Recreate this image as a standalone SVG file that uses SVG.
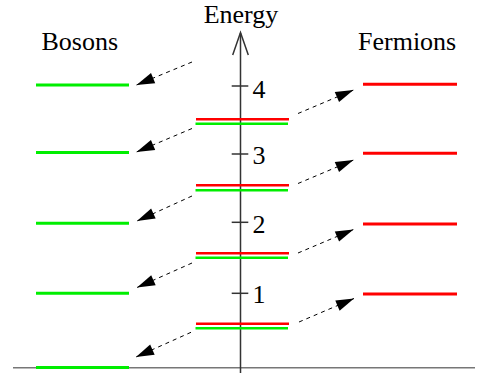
<svg xmlns="http://www.w3.org/2000/svg" width="482" height="373" viewBox="0 0 482 373">
<style>
text{font-family:'Liberation Serif','Times New Roman',serif;font-size:26px;fill:#000}
.b{stroke:#00ee00;stroke-width:3;fill:none}
.f{stroke:#ff0000;stroke-width:3;fill:none}
.pr{stroke:#ff0000;stroke-width:2.5;fill:none}
.pg{stroke:#00ee00;stroke-width:2.5;fill:none}
.ax{stroke:#333;stroke-width:1.5;fill:none}
.arr{stroke:#000;stroke-width:1;stroke-dasharray:4,4;fill:none;marker-end:url(#ah)}
</style>
<defs>
<marker id="ah" markerUnits="userSpaceOnUse" markerWidth="22" markerHeight="14" viewBox="0 0 22 14" refX="19" refY="7" orient="auto">
<path d="M1,1.5 L19,7 L1,12.5 Z" fill="#000"/>
</marker>
</defs>
<g id="axis">
<line class="ax" x1="13" y1="367.7" x2="475" y2="367.7" style="stroke:#777"/>
<line class="ax" x1="240.5" y1="33" x2="240.5" y2="373"/>
<polyline class="ax" points="232.7,55 240.5,32.5 248.3,55"/>
<text x="241" y="22.7" text-anchor="middle">Energy</text>
</g>
<g id="ticks">
<line class="ax" x1="231.7" y1="86" x2="248.3" y2="86"/>
<line class="ax" x1="231.7" y1="154" x2="248.3" y2="154"/>
<line class="ax" x1="231.7" y1="222.3" x2="248.3" y2="222.3"/>
<line class="ax" x1="231.7" y1="293.3" x2="248.3" y2="293.3"/>
<text x="252.5" y="97.7">4</text>
<text x="252.5" y="164">3</text>
<text x="252.5" y="232.7">2</text>
<text x="252.5" y="303.3">1</text>
</g>
<g id="bosons">
<text x="41.5" y="50">Bosons</text>
<line class="b" x1="36" y1="85" x2="129" y2="85"/>
<line class="b" x1="36" y1="152.5" x2="129" y2="152.5"/>
<line class="b" x1="36" y1="223.3" x2="129" y2="223.3"/>
<line class="b" x1="36" y1="293.3" x2="129" y2="293.3"/>
<line class="b" x1="36" y1="367.5" x2="129" y2="367.5"/>
</g>
<g id="fermions">
<text x="358" y="50">Fermions</text>
<line class="f" x1="363" y1="84.3" x2="457" y2="84.3"/>
<line class="f" x1="363" y1="153.3" x2="457" y2="153.3"/>
<line class="f" x1="363" y1="224" x2="457" y2="224"/>
<line class="f" x1="363" y1="294" x2="457" y2="294"/>
</g>
<g id="pairs">
<line class="pr" x1="196" y1="119.3" x2="289" y2="119.3"/>
<line class="pg" x1="195.5" y1="123.7" x2="288" y2="123.7"/>
<line class="pr" x1="196" y1="185.3" x2="289" y2="185.3"/>
<line class="pg" x1="195.5" y1="190.3" x2="288" y2="190.3"/>
<line class="pr" x1="196" y1="253.3" x2="289" y2="253.3"/>
<line class="pg" x1="195.5" y1="257.7" x2="288" y2="257.7"/>
<line class="pr" x1="196" y1="323.7" x2="289" y2="323.7"/>
<line class="pg" x1="195.5" y1="328.3" x2="288" y2="328.3"/>
</g>
<g id="connectors">
<path class="arr" d="M192,62 L136.5,85"/>
<path class="arr" d="M192,128.5 L136.5,152"/>
<path class="arr" d="M192,196 L137,221"/>
<path class="arr" d="M192,263 L137,287.5"/>
<path class="arr" d="M191,332.3 L136,357"/>
<path class="arr" d="M298,113.5 L353.5,90"/>
<path class="arr" d="M298,183.5 L353.5,160"/>
<path class="arr" d="M298,253 L353.5,229.5"/>
<path class="arr" d="M299,322 L354,298.5"/>
</g>
</svg>
